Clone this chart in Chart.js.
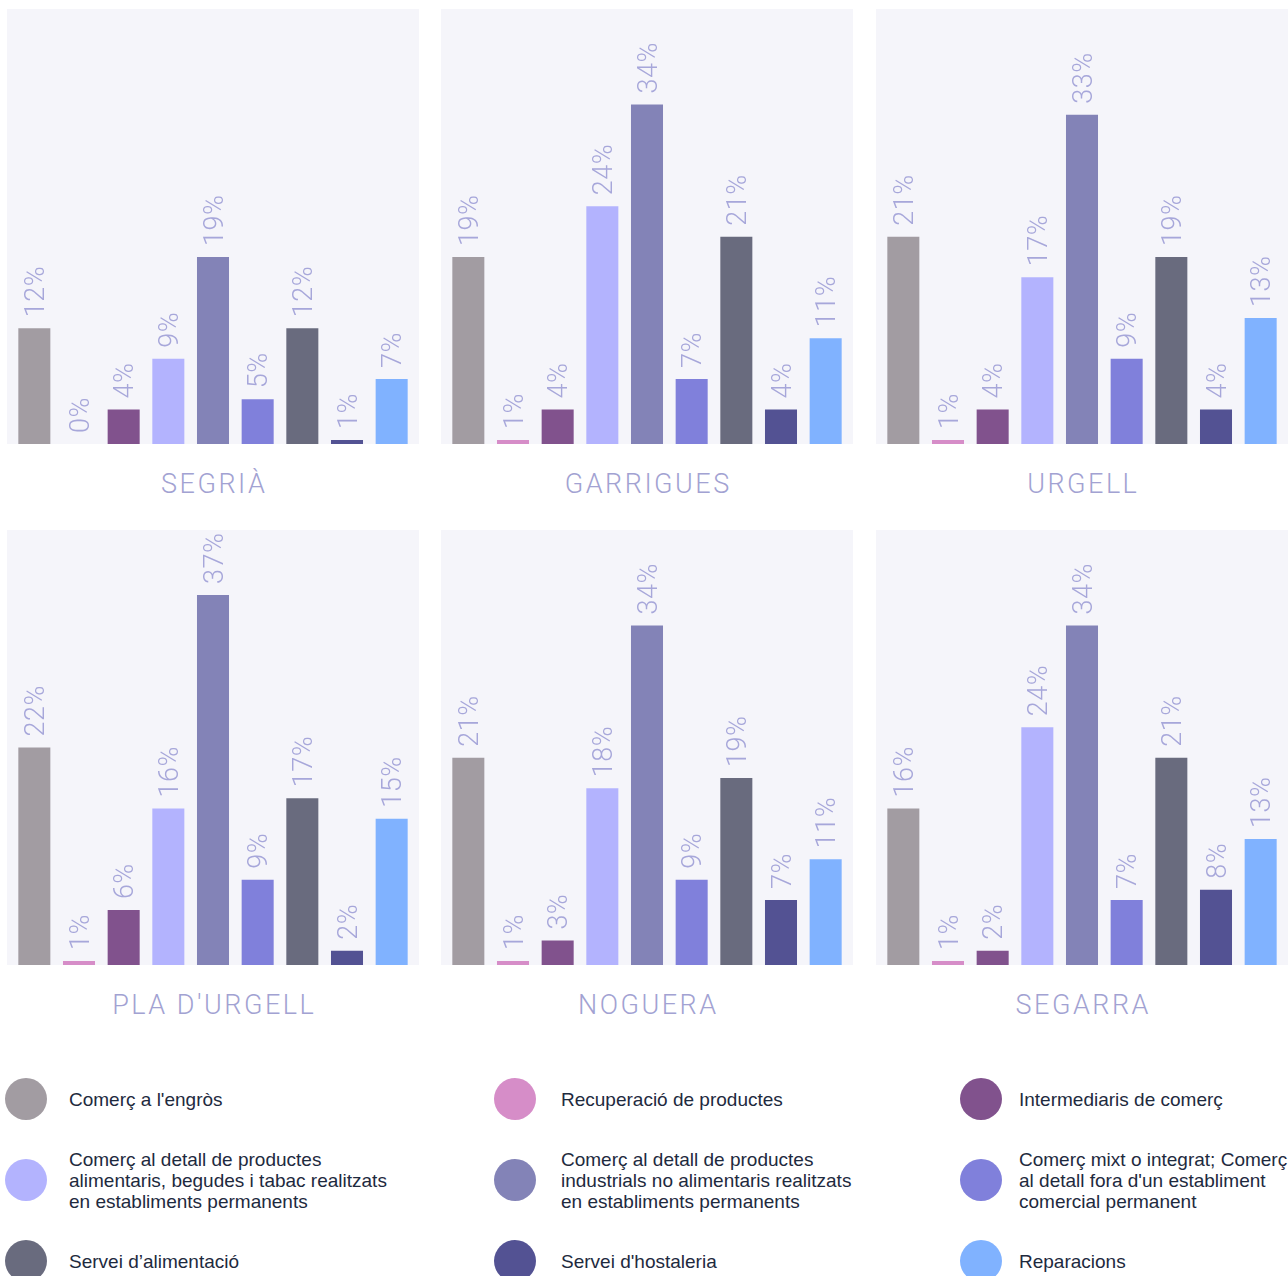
<!DOCTYPE html>
<html lang="ca">
<head>
<meta charset="utf-8">
<title>Comerç per comarques</title>
<script src="https://cdn.jsdelivr.net/npm/chart.js@4.4.1/dist/chart.umd.min.js"></script>
<style>
    html, body { margin: 0; padding: 0; background: #fff; }
    body { width: 1288px; height: 1276px; position: relative; overflow: hidden; font-family: "Liberation Sans", Arial, sans-serif; }
    .panel { position: absolute; width: 412px; }
    .panel .box { position: relative; width: 412px; height: 435px; }
    .panel .title {
        position: absolute; left: 0; top: 459px; width: 412px; text-align: center;
        font-family: Roboto, "Liberation Sans", sans-serif; font-weight: 300;
        font-size: 27px; letter-spacing: 2.5px; padding-left: 2.5px; box-sizing: border-box;
        color: #a2a2d2; line-height: 32px;
    }
    .legend-item { position: absolute; display: flex; align-items: center; }
    .legend-item .dot { width: 42px; height: 42px; border-radius: 50%; flex: none; }
    .legend-item .txt { font-size: 19px; line-height: 21px; color: #1e2a3e; white-space: normal; }
</style>
</head>
<body>
<div id="charts"></div>
<div id="legend"></div>

<script>
// Dades
const comarques = ['SEGRIÀ', 'GARRIGUES', 'URGELL', "PLA D'URGELL", 'NOGUERA', 'SEGARRA'];

const categories = [
    "Comerç a l'engròs",
    'Recuperació de productes',
    'Intermediaris de comerç',
    'Comerç al detall de productes alimentaris, begudes i tabac realitzats en establiments permanents',
    'Comerç al detall de productes industrials no alimentaris realitzats en establiments permanents',
    "Comerç mixt o integrat; Comerç al detall fora d'un establiment comercial permanent",
    'Servei d’alimentació',
    "Servei d'hostaleria",
    'Reparacions'
];

const colors = ['#a29ca2', '#d68dc8', '#81528d', '#b3b3fe', '#8383b7', '#8080db', '#696b7e', '#535293', '#80b2ff'];

// percentatges per comarca, en l'ordre de les categories
const segria     = [12, 0, 4, 9, 19, 5, 12, 1, 7];
const garrigues  = [19, 1, 4, 24, 34, 7, 21, 4, 11];
const urgell     = [21, 1, 4, 17, 33, 9, 19, 4, 13];
const plaUrgell  = [22, 1, 6, 16, 37, 9, 17, 2, 15];
const noguera    = [21, 1, 3, 18, 34, 9, 19, 7, 11];
const segarra    = [16, 1, 2, 24, 34, 7, 21, 8, 13];

const series = [segria, garrigues, urgell, plaUrgell, noguera, segarra];

document.addEventListener('DOMContentLoaded', function() {
    const chartsEl = document.getElementById('charts');
    const legendEl = document.getElementById('legend');

    // fons del panell (tota l'amplada del canvas, alçada de l'àrea del gràfic)
    const panelBg = {
        id: 'panelBg',
        beforeDraw(chart) {
            const { ctx, chartArea } = chart;
            ctx.save();
            ctx.fillStyle = '#f5f5fa';
            ctx.fillRect(0, chartArea.top, chart.width, chartArea.bottom - chartArea.top);
            ctx.restore();
        }
    };

    // etiquetes de valor girades sobre cada barra
    const valueLabels = {
        id: 'valueLabels',
        afterDatasetsDraw(chart) {
            const { ctx } = chart;
            const yScale = chart.scales.y;
            const meta = chart.getDatasetMeta(0);
            const data = chart.data.datasets[0].data;
            const size = 27;
            ctx.save();
            ctx.font = '300 ' + size + 'px Roboto, "Liberation Sans", sans-serif';
            ctx.fillStyle = '#a7a7da';
            ctx.textAlign = 'left';
            ctx.textBaseline = 'alphabetic';
            if ('letterSpacing' in ctx) ctx.letterSpacing = '0.5px';
            meta.data.forEach((bar, i) => {
                const v = data[i];
                const top = yScale.getPixelForValue(Math.max(v, yScale.min));
                ctx.save();
                ctx.translate(bar.x, top - 11);
                ctx.rotate(-Math.PI / 2);
                ctx.fillText(v + '%', 0, size * 0.36);
                ctx.restore();
            });
            ctx.restore();
        }
    };

    series.forEach((values, idx) => {
        const col = idx % 3;
        const row = Math.floor(idx / 3);

        const panel = document.createElement('div');
        panel.className = 'panel';
        panel.style.left = [7, 441, 876][col] + 'px';
        panel.style.top = [9, 530][row] + 'px';

        const box = document.createElement('div');
        box.className = 'box';
        const canvas = document.createElement('canvas');
        box.appendChild(canvas);
        panel.appendChild(box);

        const title = document.createElement('div');
        title.className = 'title';
        title.textContent = comarques[idx];
        panel.appendChild(title);

        chartsEl.appendChild(panel);

        new Chart(canvas.getContext('2d'), {
            type: 'bar',
            data: {
                labels: categories,
                datasets: [{
                    data: values,
                    backgroundColor: colors,
                    categoryPercentage: 1,
                    barPercentage: 0.717,
                    clip: 0
                }]
            },
            options: {
                responsive: true,
                maintainAspectRatio: false,
                animation: false,
                layout: { padding: { left: 5, right: 5, top: 0, bottom: 0 } },
                plugins: {
                    legend: { display: false },
                    tooltip: { enabled: false }
                },
                scales: {
                    x: { display: false },
                    y: { display: false, min: 0.6, max: 43.4 }
                }
            },
            plugins: [panelBg, valueLabels]
        });
    });

    // Llegenda
    const legendCols = [
        { dot: 5, txt: 69, width: 340 },
        { dot: 494, txt: 561, width: 305 },
        { dot: 960, txt: 1019, width: 278 }
    ];
    const legendRows = [1099, 1180, 1261];

    categories.forEach((name, i) => {
        const c = legendCols[i % 3];
        const item = document.createElement('div');
        item.className = 'legend-item';
        item.style.left = c.dot + 'px';
        item.style.top = (legendRows[Math.floor(i / 3)] - 40) + 'px';
        item.style.height = '80px';
        item.innerHTML = `
            <span class="dot" style="background:${colors[i]}"></span>
            <span class="txt" style="margin-left:${c.txt - c.dot - 42}px;width:${c.width}px;flex:none">${name}</span>
        `;
        legendEl.appendChild(item);
    });
});
</script>
</body>
</html>
